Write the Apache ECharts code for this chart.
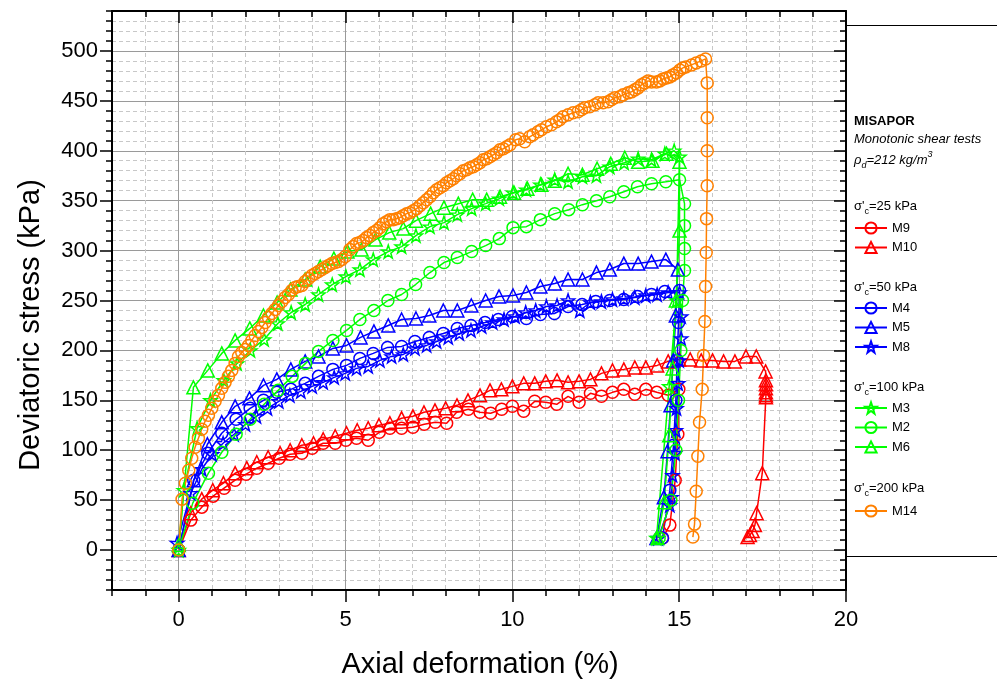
<!DOCTYPE html>
<html>
<head>
<meta charset="utf-8">
<script src="https://cdn.jsdelivr.net/npm/echarts@6/dist/echarts.min.js"></script>
<style>
html,body{margin:0;padding:0;background:#fff;}
#chart{width:997px;height:688px;}
</style>
</head>
<body>
<div id="chart"></div>
<script>
// ---------------- DATA ----------------
const xTickLabels = [0, 5, 10, 15, 20];
const yTickLabels = [0, 50, 100, 150, 200, 250, 300, 350, 400, 450, 500];
const seriesNames = ['M9', 'M10', 'M4', 'M5', 'M8', 'M3', 'M2', 'M6', 'M14'];
const groupTitles = ['25', '50', '100', '200'];

const M9 = [[0,0],[0.36,30],[0.69,43],[1.03,54],[1.36,62],[1.69,70],[2.02,76],[2.34,82],[2.68,87],[3.01,92],[3.34,96],[3.69,97],[4.0,102],[4.33,107],[4.69,107],[5.01,110],[5.33,112],[5.68,110],[6.01,118],[6.33,122],[6.68,122],[7.02,123],[7.36,126],[7.69,128],[8.03,127],[8.33,138],[8.68,141],[9.03,138],[9.35,137],[9.68,141],[10.0,144],[10.34,139],[10.67,149],[11.0,148],[11.33,146],[11.67,154],[12.0,148],[12.34,157],[12.67,154],[13.0,158],[13.34,161],[13.67,156],[14.0,161],[14.33,158],[14.67,155],[14.99,161],[14.96,116],[14.88,70],[14.72,25],[14.5,12]];

const M10 = [[0,0],[0.36,37],[0.69,51],[1.02,60],[1.34,67],[1.69,77],[2.04,82],[2.34,88],[2.68,93],[3.04,97],[3.34,100],[3.69,105],[4.04,107],[4.33,111],[4.69,114],[5.03,117],[5.35,120],[5.68,122],[6.0,125],[6.33,127],[6.68,132],[7.02,134],[7.35,138],[7.68,140],[8.0,142],[8.34,145],[8.67,150],[9.03,155],[9.33,160],[9.67,161],[10.0,164],[10.34,167],[10.67,167],[11.0,169],[11.34,170],[11.67,168],[12.0,169],[12.34,171],[12.67,177],[13.0,180],[13.34,181],[13.67,183],[14.0,183],[14.34,185],[14.67,189],[15.0,191],[15.33,191],[15.66,190],[16.0,190],[16.33,189],[16.67,189],[17.0,194],[17.31,194],[17.59,179],[17.6,170],[17.6,166],[17.6,162],[17.6,158],[17.6,155],[17.6,153],[17.49,77],[17.32,37],[17.27,25],[17.2,19],[17.12,15],[17.05,13]];

const M4 = [[0,0],[0.45,70],[0.87,97],[1.29,117],[1.72,131],[2.14,142],[2.54,150],[2.94,158],[3.36,161],[3.79,167],[4.19,174],[4.62,181],[5.03,185],[5.43,192],[5.83,197],[6.26,203],[6.68,204],[7.08,209],[7.51,213],[7.93,217],[8.35,222],[8.76,225],[9.18,228],[9.58,231],[10.0,234],[10.42,232],[10.84,236],[11.26,237],[11.67,244],[12.09,246],[12.5,249],[12.92,250],[13.34,251],[13.75,254],[14.17,256],[14.57,259],[15.01,260],[14.98,228],[14.94,190],[14.9,150],[14.83,105],[14.72,60],[14.5,12]];

const M5 = [[0,0],[0.45,70],[0.86,106],[1.29,128],[1.69,144],[2.12,152],[2.54,165],[2.94,171],[3.36,181],[3.79,189],[4.19,194],[4.62,202],[5.03,205],[5.45,213],[5.85,219],[6.28,225],[6.68,231],[7.11,232],[7.51,235],[7.93,240],[8.35,240],[8.77,245],[9.2,250],[9.6,254],[10.02,255],[10.42,258],[10.84,264],[11.27,267],[11.67,271],[12.1,271],[12.52,278],[12.92,281],[13.34,287],[13.77,287],[14.17,289],[14.6,291],[14.96,281],[14.9,235],[14.82,190],[14.74,145],[14.65,99],[14.54,53],[14.32,12]];

const M8 = [[-0.05,7],[0.36,57],[0.69,81],[1.0,96],[1.33,107],[1.66,116],[2.0,126],[2.33,134],[2.66,142],[3.0,149],[3.33,155],[3.66,159],[4.0,164],[4.33,168],[4.66,173],[4.99,177],[5.33,182],[5.68,184],[6.03,190],[6.38,194],[6.73,196],[7.08,202],[7.43,205],[7.73,209],[8.08,213],[8.41,217],[8.76,220],[9.08,224],[9.41,228],[9.75,231],[10.08,234],[10.4,238],[10.7,240],[11.02,244],[11.34,245],[11.67,250],[12.02,240],[12.34,248],[12.67,249],[13.0,251],[13.34,252],[13.67,253],[14.0,255],[14.34,256],[14.67,258],[15.01,258],[15.06,234],[15.06,212],[15.0,190],[14.97,167],[14.92,142],[14.9,120],[14.87,97],[14.8,75],[14.77,53],[14.72,45],[14.37,12]];

const M3 = [[0,0],[0.15,60],[0.55,122],[0.95,150],[1.35,170],[1.75,187],[2.15,200],[2.56,211],[2.97,227],[3.37,238],[3.79,246],[4.19,256],[4.6,266],[5.01,274],[5.43,281],[5.83,291],[6.28,299],[6.68,304],[7.11,315],[7.53,324],[7.95,328],[8.35,336],[8.78,342],[9.2,347],[9.61,352],[10.02,358],[10.42,361],[10.84,366],[11.27,371],[11.67,369],[12.1,374],[12.52,375],[12.92,384],[13.35,388],[13.77,392],[14.17,391],[14.57,397],[14.85,400],[15.01,394],[14.92,250],[14.7,164],[14.32,12]];

const M2 = [[0,0],[0.42,47],[0.89,77],[1.29,98],[1.72,116],[2.14,131],[2.56,146],[2.98,160],[3.4,174],[3.8,187],[4.19,199],[4.62,210],[5.03,220],[5.43,231],[5.85,240],[6.27,250],[6.68,256],[7.1,266],[7.53,278],[7.95,288],[8.35,293],[8.78,299],[9.2,305],[9.61,312],[10.02,323],[10.42,324],[10.84,331],[11.27,337],[11.69,341],[12.1,346],[12.52,350],[12.92,354],[13.34,359],[13.75,364],[14.17,367],[14.6,369],[15.01,371],[15.16,347],[15.16,325],[15.16,302],[15.16,280],[15.1,250],[15.05,200],[14.98,150],[14.9,100],[14.75,50],[14.4,12]];

const M6 = [[0,5],[0.44,163],[0.87,180],[1.29,197],[1.69,210],[2.13,222],[2.54,235],[2.95,248],[3.35,261],[3.79,271],[4.24,284],[4.65,292],[5.06,299],[5.48,301],[5.9,311],[6.31,318],[6.73,322],[7.11,330],[7.55,337],[7.95,343],[8.38,347],[8.81,351],[9.23,351],[9.63,354],[10.05,358],[10.45,362],[10.87,366],[11.27,370],[11.67,377],[12.1,376],[12.54,382],[12.95,387],[13.37,393],[13.77,389],[14.2,390],[14.62,397],[15.01,389],[15.01,320],[14.9,250],[14.8,182],[14.7,115],[14.55,48],[14.35,12]];

const M14 = [[0,0],[0.1,51],[0.2,67],[0.3,80],[0.39,92],[0.49,103],[0.59,112],[0.69,121],[0.79,129],[0.89,135],[0.99,142],[1.09,149],[1.19,155],[1.29,162],[1.39,168],[1.49,174],[1.59,180],[1.69,187],[1.79,194],[1.89,198],[1.99,201],[2.09,205],[2.19,210],[2.29,215],[2.39,219],[2.49,223],[2.59,228],[2.69,233],[2.79,237],[2.89,241],[2.99,245],[3.09,249],[3.19,253],[3.29,256],[3.39,260],[3.49,263],[3.59,264],[3.69,265],[3.79,269],[3.89,272],[3.99,275],[4.09,277],[4.19,279],[4.29,281],[4.39,283],[4.49,285],[4.59,287],[4.69,288],[4.79,289],[4.89,291],[4.99,294],[5.13,301],[5.23,304],[5.33,307],[5.43,308],[5.53,310],[5.63,313],[5.73,315],[5.83,318],[5.93,320],[6.03,323],[6.13,327],[6.23,329],[6.33,331],[6.43,331],[6.53,332],[6.63,333],[6.73,335],[6.83,337],[6.93,338],[7.03,340],[7.13,342],[7.23,345],[7.33,348],[7.43,351],[7.53,354],[7.63,358],[7.73,361],[7.83,363],[7.93,365],[8.03,368],[8.13,370],[8.23,372],[8.33,375],[8.43,377],[8.53,380],[8.63,381],[8.73,383],[8.83,384],[8.93,386],[9.03,388],[9.13,391],[9.23,392],[9.33,394],[9.43,396],[9.53,398],[9.63,401],[9.73,402],[9.83,404],[9.93,406],[10.1,411],[10.22,412],[10.37,409],[10.52,414],[10.62,416],[10.77,419],[10.87,421],[11.02,424],[11.17,426],[11.32,429],[11.42,431],[11.52,434],[11.67,436],[11.82,438],[11.97,439],[12.07,441],[12.17,443],[12.32,444],[12.47,446],[12.57,448],[12.72,448],[12.87,449],[12.97,451],[13.07,453],[13.22,454],[13.32,456],[13.47,458],[13.57,459],[13.67,461],[13.77,463],[13.87,466],[13.97,468],[14.07,470],[14.17,469],[14.32,469],[14.42,470],[14.52,472],[14.62,473],[14.72,474],[14.81,476],[14.92,478],[15.02,481],[15.11,483],[15.2,484],[15.37,486],[15.51,488],[15.66,490],[15.79,492],[15.84,468],[15.84,433],[15.84,400],[15.84,365],[15.82,332],[15.81,298],[15.79,264],[15.77,229],[15.73,195],[15.69,161],[15.61,128],[15.56,94],[15.51,59],[15.46,26],[15.41,13]];

// ---------------- STYLE ----------------
const RED = '#FF0000', BLUE = '#0000FF', GREEN = '#00FF00', ORANGE = '#FF8000';
const STAR = 'path://M0,-10L2.35,-3.24L9.51,-3.09L3.8,1.24L5.88,8.09L0,4L-5.88,8.09L-3.8,1.24L-9.51,-3.09L-2.35,-3.24Z';
const FONT = '"Liberation Sans", Arial, sans-serif';
const LIGHT = '#c8c8c8', MAJ = '#9a9a9a', NONE = 'rgba(0,0,0,0)';

const seriesData = { M9, M10, M4, M5, M8, M3, M2, M6, M14 };
const seriesStyle = {
  M9: [RED, 'circle', 12], M10: [RED, 'triangle', 13],
  M4: [BLUE, 'circle', 12], M5: [BLUE, 'triangle', 13], M8: [BLUE, STAR, 13],
  M3: [GREEN, STAR, 13], M2: [GREEN, 'circle', 12], M6: [GREEN, 'triangle', 13],
  M14: [ORANGE, 'circle', 12]
};

const series = seriesNames.map(n => {
  const [c, sym, sz] = seriesStyle[n];
  return {
    name: n, type: 'line', xAxisIndex: 0, yAxisIndex: 0,
    data: seriesData[n], symbol: sym, symbolSize: sz, showSymbol: true,
    lineStyle: { color: c, width: 1.5 },
    itemStyle: { color: NONE, borderColor: c, borderWidth: 1.5 },
    emphasis: { disabled: true }, animation: false, z: 3
  };
});

const gridBox = { left: 112, top: 11, width: 734, height: 579 };

function xAx(extra) {
  return Object.assign({ type: 'value', gridIndex: 0, min: -2, max: 20, interval: 1,
    axisLine: { show: false, onZero: false }, axisTick: { show: false }, axisLabel: { show: false },
    splitLine: { show: false } }, extra);
}
function yAx(extra) {
  return Object.assign({ type: 'value', gridIndex: 0, min: -40, max: 540, interval: 10,
    axisLine: { show: false, onZero: false }, axisTick: { show: false }, axisLabel: { show: false },
    splitLine: { show: false } }, extra);
}
const blackLine = { show: true, onZero: false, lineStyle: { color: '#000', width: 2 } };
const tickStyle = { color: '#000', width: 1.5 };

const xAxis = [
  xAx({ position: 'bottom', axisLine: blackLine,
    axisTick: { show: true, inside: false, length: 6, lineStyle: tickStyle },
    axisLabel: { show: true, margin: 19, fontSize: 22, color: '#000', fontFamily: FONT,
      formatter: v => (xTickLabels.indexOf(v) >= 0 ? String(v) : '') },
    splitLine: { show: true, lineStyle: { type: [4, 3], width: 1, color: [LIGHT, LIGHT, NONE, LIGHT, LIGHT] } } }),
  xAx({ position: 'bottom', axisTick: { show: true, inside: false, length: 12, lineStyle: tickStyle, customValues: xTickLabels } }),
  xAx({ position: 'bottom', splitLine: { show: true, lineStyle: { type: 'solid', width: 1, color: [NONE, NONE, MAJ, NONE, NONE] } } }),
  xAx({ position: 'top', axisLine: blackLine, axisTick: { show: true, inside: true, length: 6, lineStyle: tickStyle } }),
  xAx({ position: 'top', axisTick: { show: true, inside: true, length: 12, lineStyle: tickStyle, customValues: xTickLabels } })
];
const yAxis = [
  yAx({ position: 'left', axisLine: blackLine,
    axisTick: { show: true, inside: false, length: 6, lineStyle: tickStyle },
    axisLabel: { show: true, margin: 14, fontSize: 22, color: '#000', fontFamily: FONT,
      formatter: v => (yTickLabels.indexOf(v) >= 0 ? String(v) : '') },
    splitLine: { show: true, lineStyle: { type: [4, 3], width: 1, color: [LIGHT, LIGHT, LIGHT, LIGHT, NONE] } } }),
  yAx({ position: 'left', axisTick: { show: true, inside: false, length: 12, lineStyle: tickStyle, customValues: yTickLabels } }),
  yAx({ position: 'left', splitLine: { show: true, lineStyle: { type: 'solid', width: 1, color: [NONE, NONE, NONE, NONE, MAJ] } } }),
  yAx({ position: 'right', axisLine: blackLine, axisTick: { show: true, inside: true, length: 6, lineStyle: tickStyle } }),
  yAx({ position: 'right', axisTick: { show: true, inside: true, length: 12, lineStyle: tickStyle, customValues: yTickLabels } })
];

// legends: one per confining-pressure group
const legendGroups = [['M9', 'M10'], ['M4', 'M5', 'M8'], ['M3', 'M2', 'M6'], ['M14']];
const legendTops = [221, 301, 401, 504];
const legend = legendGroups.map((g, i) => ({
  data: g, orient: 'vertical', left: 854, top: legendTops[i], padding: 0,
  itemWidth: 32, itemHeight: 14, itemGap: 5.5, selectedMode: false,
  textStyle: { fontSize: 13, color: '#000', fontFamily: FONT, lineHeight: 14 }
}));

const groupTitleY = [206, 287, 387, 488];
const richBase = {
  n: { fontSize: 13, fontFamily: FONT, fill: '#000', lineHeight: 20 },
  sub: { fontSize: 9, fontFamily: FONT, fill: '#000', lineHeight: 20, verticalAlign: 'bottom' },
  i: { fontSize: 13, fontFamily: FONT, fill: '#000', fontStyle: 'italic', lineHeight: 20 },
  isub: { fontSize: 9, fontFamily: FONT, fill: '#000', fontStyle: 'italic', lineHeight: 20, verticalAlign: 'bottom' },
  isup: { fontSize: 9, fontFamily: FONT, fill: '#000', fontStyle: 'italic', lineHeight: 20, verticalAlign: 'top' }
};

const graphic = [
  { type: 'rect', z: 0, shape: { x: 846.5, y: 25.5, width: 200, height: 531 }, style: { fill: '#fff', stroke: '#000', lineWidth: 1 } },
  { type: 'text', z: 10, style: { x: 854, y: 121, text: 'MISAPOR', font: 'bold 13px ' + FONT, fill: '#000', verticalAlign: 'middle' } },
  { type: 'text', z: 10, style: { x: 854, y: 139, text: 'Monotonic shear tests', font: 'italic 13px ' + FONT, fill: '#000', verticalAlign: 'middle' } },
  { type: 'text', z: 10, style: { x: 854, y: 160, text: '{i|ρ}{isub|d}{i|=212 kg/m}{isup|3}', rich: richBase, verticalAlign: 'middle' } },
  ...groupTitles.map((t, i) => ({ type: 'text', z: 10, style: { x: 854, y: groupTitleY[i], text: "{n|σ'}{sub|c}{n|=" + t + ' kPa}', rich: richBase, verticalAlign: 'middle' } })),
  { type: 'text', z: 10, x: 31, y: 325, rotation: Math.PI / 2, style: { x: 0, y: 0, text: 'Deviatoric stress (kPa)', font: '29px ' + FONT, fill: '#000', align: 'center', verticalAlign: 'middle' } },
  { type: 'text', z: 10, style: { x: 480, y: 665, text: 'Axial deformation (%)', font: '29px ' + FONT, fill: '#000', align: 'center', verticalAlign: 'middle' } }
];

const chart = echarts.init(document.getElementById('chart'), null, { renderer: 'canvas' });
chart.setOption({
  animation: false,
  backgroundColor: '#fff',
  grid: [gridBox],
  xAxis, yAxis, legend, series, graphic
});
</script>
</body>
</html>
